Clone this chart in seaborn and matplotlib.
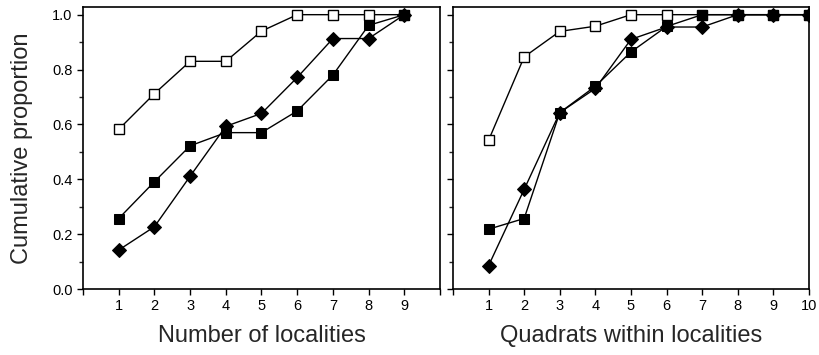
import numpy as np
import pandas as pd
import matplotlib
matplotlib.use("Agg")
import matplotlib.pyplot as plt
from matplotlib.ticker import MultipleLocator
import seaborn as sns

sns.set_style("ticks")
plt.rcParams["font.family"] = ["Liberation Sans", "DejaVu Sans"]

# left panel: number of localities
loc_x = [1, 2, 3, 4, 5, 6, 7, 8, 9]
loc_open = [0.582, 0.712, 0.830, 0.830, 0.940, 1.0, 1.0, 1.0, 1.0]
loc_filled = [0.257, 0.391, 0.522, 0.570, 0.570, 0.649, 0.780, 0.961, 1.0]
loc_diamond = [0.142, 0.227, 0.411, 0.593, 0.640, 0.771, 0.913, 0.913, 1.0]

# right panel: quadrats within localities
quad_x = [1, 2, 3, 4, 5, 6, 7, 8, 9, 10]
quad_open = [0.542, 0.846, 0.939, 0.958, 1.0, 1.0, 1.0, 1.0, 1.0, 1.0]
quad_filled = [0.218, 0.257, 0.643, 0.739, 0.864, 0.957, 1.0, 1.0, 1.0, 1.0]
quad_diamond = [0.085, 0.363, 0.643, 0.731, 0.910, 0.955, 0.955, 1.0, 1.0, 1.0]

y_ticks = [0.0, 0.2, 0.4, 0.6, 0.8, 1.0]
y_labels = ["0.0", "0.2", "0.4", "0.6", "0.8", "1.0"]

fig = plt.figure(figsize=(8.2, 3.55), dpi=100)
ax1 = fig.add_axes([0.1012, 0.1859, 0.4354, 0.7944])
ax2 = fig.add_axes([0.5524, 0.1859, 0.4341, 0.7944])


def draw(ax, x, opn, filled, diamond):
    sns.lineplot(x=x, y=opn, ax=ax, color="black", lw=1, marker="s",
                 markersize=7.5, markerfacecolor="white", markeredgecolor="black",
                 markeredgewidth=1, zorder=2)
    sns.lineplot(x=x, y=diamond, ax=ax, color="black", lw=1, marker="D",
                 markersize=7.5, markerfacecolor="black", markeredgecolor="black",
                 zorder=3)
    sns.lineplot(x=x, y=filled, ax=ax, color="black", lw=1, marker="s",
                 markersize=7.5, markerfacecolor="black", markeredgecolor="black",
                 zorder=4)
    ax.set_xlim(0, 10)
    ax.set_ylim(0, 1.028)
    ax.set_xticks(range(0, 11))
    ax.set_yticks(y_ticks)
    ax.yaxis.set_minor_locator(MultipleLocator(0.1))
    ax.tick_params(axis="both", which="major", direction="out", length=4,
                   width=1, labelsize=10.5, colors="black")
    ax.tick_params(axis="y", which="minor", direction="out", length=3, width=1)
    for s in ax.spines.values():
        s.set_visible(True)
        s.set_color("black")
        s.set_linewidth(1.2)


draw(ax1, loc_x, loc_open, loc_filled, loc_diamond)
draw(ax2, quad_x, quad_open, quad_filled, quad_diamond)

ax1.set_xticklabels([""] + [str(i) for i in range(1, 10)] + [""])
ax2.set_xticklabels([""] + [str(i) for i in range(1, 11)])
ax1.set_yticklabels(y_labels)
ax2.set_yticklabels([])

ax1.set_xlabel("Number of localities", fontsize=17, labelpad=8)
ax2.set_xlabel("Quadrats within localities", fontsize=17, labelpad=8)
ax1.set_ylabel("Cumulative proportion", fontsize=17, labelpad=14)

fig.savefig("out.png", dpi=100)
